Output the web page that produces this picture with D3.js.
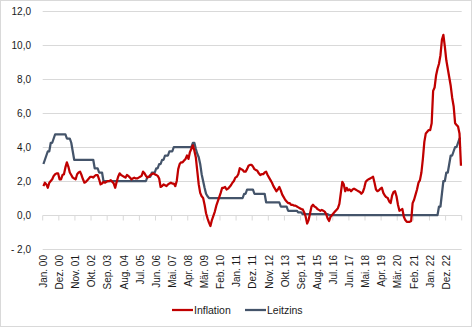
<!DOCTYPE html>
<html><head><meta charset="utf-8">
<script src="https://cdn.jsdelivr.net/npm/d3@7"></script>
<style>
html,body{margin:0;padding:0;background:#fff;}
svg{display:block;font-family:"Liberation Sans",Arial,sans-serif;}
</style></head>
<body>
<svg id="chart" width="473" height="328"></svg>
<script>
// ---- data (monthly, Jan 2000 – Oct 2023) ----
const monthNames = ["Jan.","Feb.","Mär.","Apr.","Mai.","Jun.","Jul.","Aug.","Sep.","Okt.","Nov.","Dez."];
const seriesNames = ["Inflation","Leitzins"];
const inflation = [
 1.7,1.9,1.8,1.6,1.9,2.0,2.1,2.3,2.4,2.45,2.45,2.1,
 2.1,2.35,2.4,2.8,3.1,2.85,2.5,2.35,2.2,2.15,2.1,2.4,
 2.5,2.55,2.35,2.1,1.9,1.95,2.05,2.15,2.25,2.25,2.2,2.3,
 2.35,2.35,2.1,1.8,1.85,1.95,1.9,1.95,2.0,2.0,2.05,1.95,
 1.85,1.6,1.95,2.25,2.45,2.35,2.3,2.25,2.2,2.35,2.3,2.2,
 2.1,2.15,2.2,2.15,2.15,2.2,2.25,2.3,2.55,2.45,2.3,2.2,
 2.25,2.35,2.4,2.45,2.4,2.35,2.3,2.15,1.65,1.7,1.8,1.75,
 1.7,1.8,1.85,1.9,1.85,1.85,1.7,2.0,2.7,3.0,3.1,3.1,
 3.2,3.3,3.5,3.3,3.7,3.9,4.1,3.8,3.4,2.6,1.8,1.3,
 1.1,1.0,0.6,0.1,-0.2,-0.45,-0.65,-0.3,-0.05,0.2,0.55,0.8,
 1.05,1.3,1.6,1.6,1.65,1.5,1.55,1.65,1.75,1.9,2.0,2.2,
 2.25,2.4,2.75,2.7,2.65,2.55,2.55,2.7,2.9,2.95,2.95,2.85,
 2.7,2.65,2.6,2.45,2.35,2.4,2.4,2.5,2.55,2.35,2.2,2.05,
 1.9,1.7,1.55,1.4,1.5,1.65,1.45,1.2,1.05,0.9,0.8,0.7,
 0.7,0.6,0.6,0.55,0.55,0.5,0.45,0.4,0.35,0.33,0.15,-0.1,
 -0.5,-0.3,0.1,0.5,0.6,0.5,0.45,0.35,0.3,0.25,0.3,0.25,
 0.2,0.05,-0.2,-0.35,-0.1,0.0,0.1,0.2,0.3,0.4,0.65,1.3,
 1.95,1.8,1.4,1.6,1.45,1.5,1.4,1.5,1.55,1.5,1.45,1.4,
 1.35,1.25,1.35,1.6,1.95,2.05,2.1,2.15,2.2,2.25,1.9,1.5,
 1.4,1.45,1.55,1.6,1.3,1.15,1.05,1.0,0.8,0.7,1.15,1.35,
 1.4,1.1,0.6,0.25,0.3,0.35,-0.1,-0.3,-0.4,-0.4,-0.4,-0.35,
 0.7,0.9,1.2,1.5,1.9,2.05,2.5,3.3,4.3,4.8,4.9,5.0,
 5.0,5.4,7.3,7.5,8.2,8.6,8.9,9.4,10.3,10.6,9.9,9.1,
 8.6,8.1,7.6,6.9,6.4,5.4,5.3,5.2,4.8,2.9
];
const leitzins = [
 3.0,3.25,3.5,3.75,3.75,4.25,4.25,4.5,4.75,4.75,4.75,4.75,
 4.75,4.75,4.75,4.75,4.5,4.5,4.5,4.25,3.75,3.25,3.25,3.25,
 3.25,3.25,3.25,3.25,3.25,3.25,3.25,3.25,3.25,3.25,3.25,2.75,
 2.75,2.75,2.5,2.5,2.5,2.0,2.0,2.0,2.0,2.0,2.0,2.0,
 2.0,2.0,2.0,2.0,2.0,2.0,2.0,2.0,2.0,2.0,2.0,2.0,
 2.0,2.0,2.0,2.0,2.0,2.0,2.0,2.0,2.0,2.0,2.0,2.25,
 2.25,2.25,2.5,2.5,2.5,2.75,2.75,3.0,3.0,3.25,3.25,3.5,
 3.5,3.5,3.75,3.75,3.75,4.0,4.0,4.0,4.0,4.0,4.0,4.0,
 4.0,4.0,4.0,4.0,4.0,4.0,4.25,4.25,3.9,3.6,3.4,3.0,
 2.4,2.0,1.6,1.25,1.1,1.0,1.0,1.0,1.0,1.0,1.0,1.0,
 1.0,1.0,1.0,1.0,1.0,1.0,1.0,1.0,1.0,1.0,1.0,1.0,
 1.0,1.0,1.0,1.0,1.0,1.25,1.25,1.5,1.5,1.5,1.5,1.5,
 1.25,1.25,1.25,1.25,1.25,1.25,1.25,1.25,0.75,0.75,0.75,0.75,
 0.75,0.75,0.75,0.75,0.75,0.75,0.5,0.5,0.5,0.5,0.5,0.25,
 0.25,0.25,0.25,0.25,0.25,0.25,0.15,0.15,0.15,0.05,0.05,0.05,
 0.05,0.05,0.05,0.05,0.05,0.05,0.05,0.05,0.05,0.05,0.05,0.05,
 0.05,0.05,0.05,0,0,0,0,0,0,0,0,0,
 0,0,0,0,0,0,0,0,0,0,0,0,
 0,0,0,0,0,0,0,0,0,0,0,0,
 0,0,0,0,0,0,0,0,0,0,0,0,
 0,0,0,0,0,0,0,0,0,0,0,0,
 0,0,0,0,0,0,0,0,0,0,0,0,
 0,0,0,0,0,0,0.5,0.5,1.25,2.0,2.0,2.5,
 2.5,3.0,3.5,3.5,3.75,4.0,4.0,4.25,4.5,4.5
];
const tickLabels = ["Jan. 00","Dez. 00","Nov. 01","Okt. 02","Sep. 03","Aug. 04","Jul. 05","Jun. 06","Mai. 07","Apr. 08","Mär. 09","Feb. 10","Jan. 11","Dez. 11","Nov. 12","Okt. 13","Sep. 14","Aug. 15","Jul. 16","Jun. 17","Mai. 18","Apr. 19","Mär. 20","Feb. 21","Jan. 22","Dez. 22"];
const yTicks = [-2,0,2,4,6,8,10,12];
const tickEvery = 11;

// categories
const categories = inflation.map((_, i) => monthNames[i % 12] + " " + String(i / 12 | 0).padStart(2, "0"));
const colors = {Inflation:"#C00000", Leitzins:"#44546A"};

const svg = d3.select("#chart");
const W = 473, H = 328;
const plot = {left:42.7, right:461.7, top:11, bottom:249};

svg.append("rect").attr("x",0.5).attr("y",0.5).attr("width",W-2).attr("height",H-2)
  .attr("fill","#fff").attr("stroke","#D9D9D9");

const x = d3.scaleBand().domain(d3.range(categories.length)).range([plot.left, plot.right]).paddingInner(0).paddingOuter(0);
const xc = i => x(i) + x.bandwidth() / 2;
const y = d3.scaleLinear().domain([-2, 12]).range([plot.bottom, plot.top]);

// gridlines
svg.append("g").selectAll("line").data(yTicks).join("line")
  .attr("x1", plot.left).attr("x2", plot.right)
  .attr("y1", d => Math.round(y(d)) + 0.5).attr("y2", d => Math.round(y(d)) + 0.5)
  .attr("stroke", "#D9D9D9").attr("stroke-width", 1);

// y labels
const fmt = d => (d < 0 ? "- " : "") + d3.format(".1f")(Math.abs(d)).replace(".", ",");
const yAxis = d3.axisLeft(y).tickValues(yTicks).tickFormat(fmt).tickSize(0).tickPadding(0);
const gy = svg.append("g").attr("transform", "translate(31,0)").call(yAxis);
gy.select(".domain").remove();
gy.selectAll("text").attr("font-size", 10).attr("fill", "#1a1a1a")
  .attr("font-family", '"Liberation Sans",Arial,sans-serif');

// x tick marks at zero line, every 11 categories
const tickIdx = d3.range(0, categories.length + 1, tickEvery);
const y0 = Math.round(y(0)) + 0.5;
svg.append("g").selectAll("line").data(tickIdx).join("line")
  .attr("x1", i => i < categories.length ? x(i) : plot.right)
  .attr("x2", i => i < categories.length ? x(i) : plot.right)
  .attr("y1", y0).attr("y2", y0 + 5)
  .attr("stroke", "#D9D9D9").attr("stroke-width", 1);

// x labels (rotated)
svg.append("g").selectAll("text").data(tickLabels).join("text")
  .attr("transform", (d, k) => `translate(${xc(k * tickEvery)},255) rotate(-90)`)
  .attr("text-anchor", "end").attr("dy", "0.35em")
  .attr("font-size", 10).attr("fill", "#1a1a1a")
  .text(d => d);

// lines
const line = d3.line().x((d, i) => xc(i)).y(d => y(d));
const seriesData = {Inflation: inflation, Leitzins: leitzins};
["Leitzins", "Inflation"].forEach(name => {
  svg.append("path").datum(seriesData[name])
    .attr("d", line).attr("fill", "none")
    .attr("stroke", colors[name]).attr("stroke-width", 2.25)
    .attr("stroke-linejoin", "round");
});

// legend
const legendItems = [{name:"Inflation", x:172}, {name:"Leitzins", x:245}];
const lg = svg.append("g").selectAll("g").data(legendItems).join("g")
  .attr("transform", d => `translate(${d.x},310)`);
lg.append("line").attr("x1", 0).attr("x2", 21).attr("y1", 0).attr("y2", 0)
  .attr("stroke", d => colors[d.name]).attr("stroke-width", 2.25);
lg.append("text").attr("x", 22).attr("dy", "0.35em").attr("font-size", 10.5)
  .attr("fill", "#1a1a1a").text(d => d.name);
</script>
</body></html>
